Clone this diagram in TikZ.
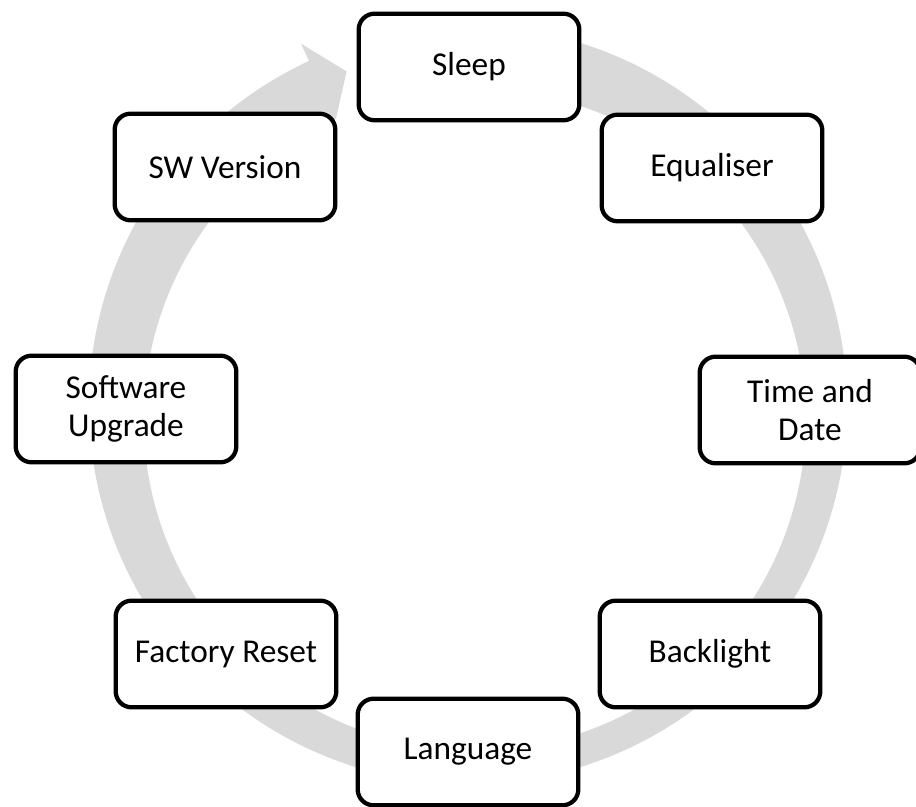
\documentclass[tikz,border=0pt]{standalone}
\usepackage{fontspec}
\setmainfont{Carlito}
\definecolor{ringgray}{RGB}{217,217,217}
\tikzset{menubox/.style = {draw, line width = 3.2pt, rounded corners = 12pt, fill = white,
		minimum width = 165.5pt, minimum height = 80pt, align = center,
		font = \fontsize{25}{28}\selectfont}}
\begin{document}
\begin{tikzpicture}[x = .75pt, y = .75pt]
	\useasboundingbox (0,0) rectangle (916,806);
	\begin{scope}[shift = {(468,401)}]
		\fill[ringgray] (100:379) arc[start angle = 100, end angle = -245.2, radius = 379]
			-- (-245.2:398) -- (-250:355) -- (-245.2:315)
			arc[start angle = -245.2, end angle = 100, radius = 331] -- cycle; %cycle arrow
	\end{scope}
	\node[menubox] (sleep) at (469,739) {Sleep};
	\node[menubox] (equaliser) at (712,638) {Equaliser};
	\node[menubox] (timedate) at (810,396) {Time and\\Date};
	\node[menubox] (backlight) at (710,152) {Backlight};
	\node[menubox] (language) at (468,54) {Language};
	\node[menubox] (factory) at (226,152) {Factory Reset};
	\node[menubox] (swupgrade) at (126,397) {Software\\Upgrade};
	\node[menubox] (swversion) at (225,639) {SW Version};
\end{tikzpicture}
\end{document}
